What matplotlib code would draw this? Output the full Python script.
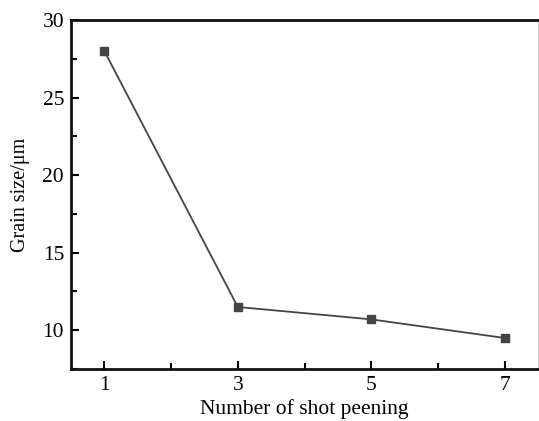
import matplotlib
matplotlib.use("Agg")
import matplotlib.pyplot as plt
from matplotlib.ticker import MultipleLocator, FixedLocator

shots = [1, 3, 5, 7]
grain_size = [28.0, 11.5, 10.7, 9.5]
xtick_labels = ["1", "3", "5", "7"]
yticks = [10, 15, 20, 25, 30]

plt.rcParams["font.family"] = ["Liberation Serif", "DejaVu Serif"]

fig = plt.figure(figsize=(5.39, 4.21), dpi=100)
ax = fig.add_axes([71 / 539, 1 - 369 / 421, 1 - 71 / 539 - 1 / 539, (369 - 20) / 421])

ax.plot(shots, grain_size, color="#444444", lw=1.3, marker="s", ms=6,
        mfc="#444444", mec="#444444")

ax.set_xlim(0.5, 7.5)
ax.set_ylim(7.5, 30)
ax.set_xticks(shots)
ax.set_xticklabels(xtick_labels)
ax.xaxis.set_minor_locator(FixedLocator([2, 4, 6]))
ax.set_yticks(yticks)
ax.yaxis.set_minor_locator(MultipleLocator(2.5))

ax.tick_params(which="major", direction="in", length=6, width=1.5, labelsize=15.5, pad=5)
ax.tick_params(which="minor", direction="in", length=4, width=1.5)
ax.tick_params(top=False, right=False, which="both")

for side in ["left", "bottom", "top"]:
    ax.spines[side].set_linewidth(2)
    ax.spines[side].set_color("#111111")
ax.spines["right"].set_linewidth(0.8)
ax.spines["right"].set_color("#cccccc")

ax.set_xlabel("Number of shot peening", fontsize=15.5, labelpad=3)
ax.set_ylabel("Grain size/μm", fontsize=14.5, labelpad=9)

fig.savefig("out.png", dpi=100)
